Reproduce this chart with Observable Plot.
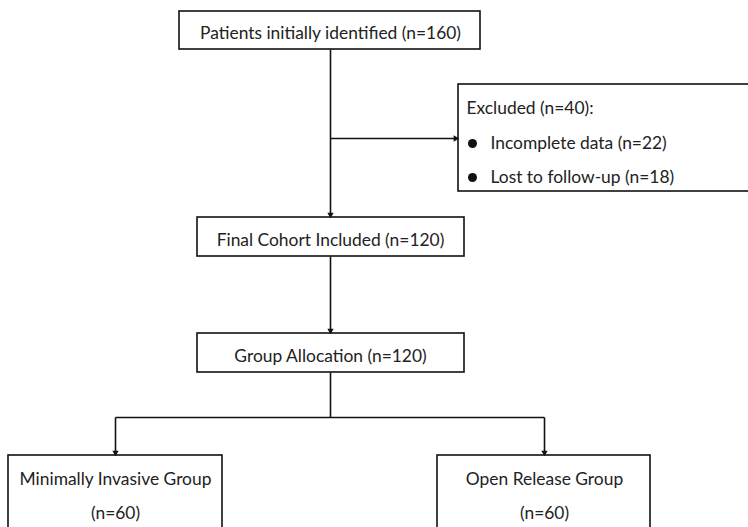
<!DOCTYPE html>
<html><head><meta charset="utf-8">
<script src="https://cdn.jsdelivr.net/npm/d3@7"></script>
<script src="https://cdn.jsdelivr.net/npm/@observablehq/plot@0.6"></script>
<style>body{margin:0;background:#fff}</style>
</head><body><div id="chart"></div>
<script>
// Content
const boxLabels = ["Patients initially identified (n=160)", "Final Cohort Included (n=120)", "Group Allocation (n=120)", "Minimally Invasive Group", "Open Release Group"];
const groupCounts = ["(n=60)", "(n=60)"];
const excludedTitle = "Excluded (n=40):";
const excludedItems = ["Incomplete data (n=22)", "Lost to follow-up (n=18)"];

// Layout (pixel frame)
const boxes = [
  {x1:179, x2:480, y1:11, y2:49},
  {x1:197, x2:464, y1:217, y2:256},
  {x1:197, x2:464, y1:333, y2:372},
  {x1:8, x2:222, y1:455, y2:540},
  {x1:437, x2:650, y1:455, y2:540},
  {x1:458, x2:770, y1:84, y2:191}
];
const segs = [
  {x1:330,y1:49,x2:330,y2:213},
  {x1:330,y1:138,x2:454,y2:138},
  {x1:330,y1:256,x2:330,y2:329},
  {x1:330,y1:372,x2:330,y2:417},
  {x1:115,y1:417,x2:544,y2:417},
  {x1:115,y1:417,x2:115,y2:451},
  {x1:544,y1:417,x2:544,y2:451}
];
const heads = [
  {x:330,y:214,r:180},{x:455,y:138,r:90},{x:330,y:330,r:180},{x:115,y:452,r:180},{x:544,y:452,r:180}
];
const font = "Lato, 'Open Sans', sans-serif";
const fs = 17.4;
const labelPos = [{x:330,y:33},{x:330,y:240},{x:330,y:356},{x:115,y:479},{x:544,y:479}];
const textData = boxLabels.map((t,i)=>({t, ...labelPos[i]}));
const countData = groupCounts.map((t,i)=>({t, x:[115,544][i], y:513}));
const exData = excludedItems.map((t,i)=>({t, x:490, y:[143,177][i], bx:472}));

const plot = Plot.plot({
  width:748, height:527, margin:0,
  x:{domain:[0,748], range:[0,748], axis:null},
  y:{domain:[0,527], range:[0,527], axis:null},
  style:{fontFamily:font, background:"#fff"},
  marks:[
    Plot.rect(boxes, {x1:"x1",x2:"x2",y1:"y1",y2:"y2", fill:"white", stroke:"#111", strokeWidth:1.6}),
    Plot.link(segs, {x1:"x1",y1:"y1",x2:"x2",y2:"y2", stroke:"#111", strokeWidth:1.6}),
    Plot.dot(heads, {x:"x", y:"y", rotate:"r", symbol:"triangle2", r:3, fill:"#111", stroke:"none"}),
    Plot.text(textData, {x:"x", y:"y", text:"t", fontSize:fs, fill:"#222"}),
    Plot.text(countData, {x:"x", y:"y", text:"t", fontSize:fs, fill:"#222"}),
    Plot.text([excludedTitle], {x:466, y:108, text:d=>d, textAnchor:"start", fontSize:fs, fill:"#222"}),
    Plot.dot(exData, {x:"bx", y:"y", r:4.5, fill:"#111", stroke:"none"}),
    Plot.text(exData, {x:"x", y:"y", text:"t", textAnchor:"start", fontSize:fs, fill:"#222"})
  ]
});
document.getElementById("chart").appendChild(plot);
</script></body></html>
